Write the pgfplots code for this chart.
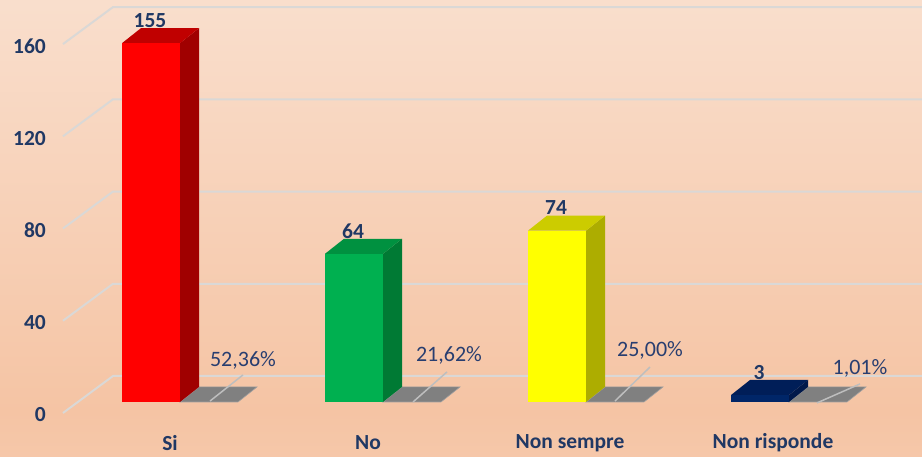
\documentclass[border=0pt]{standalone}
\usepackage{pgfplots}
\pgfplotsset{compat=1.18}
\usepackage{fontspec}
\setmainfont{Carlito}
\definecolor{navy}{RGB}{32,56,100}
\definecolor{pctc}{RGB}{40,62,112}
\definecolor{gridc}{RGB}{218,216,214}
\definecolor{bgtop}{RGB}{252,237,227}
\definecolor{bgmid}{RGB}{245,196,164}
\definecolor{bgbot}{RGB}{249,216,195}
\definecolor{redF}{RGB}{255,0,0}
\definecolor{redT}{RGB}{192,0,0}
\definecolor{redS}{RGB}{160,0,0}
\definecolor{grnF}{RGB}{0,176,80}
\definecolor{grnT}{RGB}{0,145,64}
\definecolor{grnS}{RGB}{0,122,52}
\definecolor{yelF}{RGB}{255,255,0}
\definecolor{yelT}{RGB}{204,204,0}
\definecolor{yelS}{RGB}{173,173,0}
\definecolor{navF}{RGB}{0,38,104}
\definecolor{navT}{RGB}{0,30,88}
\definecolor{navS}{RGB}{0,24,74}
\definecolor{grayF}{RGB}{128,128,128}
\definecolor{grayE}{RGB}{160,160,160}
\definecolor{leadc}{RGB}{190,190,190}
\pgfdeclareverticalshading{bgshade}{100bp}{color(0bp)=(bgbot); color(30bp)=(bgmid); color(100bp)=(bgtop)}
\newcommand{\bigf}{\fontsize{21.5}{25}\selectfont}
\newcommand{\pctf}{\fontsize{22}{25}\selectfont}
\begin{document}
\begin{tikzpicture}
\begin{axis}[
  width=922pt, height=457pt, scale only axis,
  xmin=0, xmax=922, ymin=-23.76, ymax=173.65,
  axis line style={draw=none},
  axis background/.style={shading=bgshade},
  major tick length=0pt,
  /pgf/number format/assume math mode=true,
  xtick={170,368,570,773},
  xticklabels={\textbf{Si},\textbf{No},\textbf{Non sempre},\textbf{Non risponde}},
  xticklabel style={anchor=center, inner sep=0pt, yshift=14pt, font=\bigf\bfseries, text=navy},
  ytick={-4.75,35.09,74.93,114.77,154.61},
  yticklabels={\textbf{0},\textbf{40},\textbf{80},\textbf{120},\textbf{160}},
  yticklabel style={anchor=east, inner sep=0pt, xshift=46pt, yshift=-2pt, font=\bigf\bfseries, text=navy},
  clip=false,
]
% gridlines (front-left diagonal, then back wall)
\addplot[gridc, line width=2pt] coordinates {(63,-4.75) (113,11.23) (922,11.23)};
\addplot[gridc, line width=2pt] coordinates {(63,35.09) (113,51.07) (922,51.07)};
\addplot[gridc, line width=2pt] coordinates {(63,74.93) (113,90.91) (922,90.91)};
\addplot[gridc, line width=2pt] coordinates {(63,114.77) (113,130.75) (922,130.75)};
\addplot[gridc, line width=2pt] coordinates {(63,154.61) (113,170.59) (922,170.59)};

% grey percentage bars (flat)
\addplot[fill=grayF, draw=grayE, line width=0.6pt] coordinates {(180,0) (238,0) (257,6.5) (199,6.5)} --cycle;
\addplot[fill=grayF, draw=grayE, line width=0.6pt] coordinates {(383,0) (441,0) (460,6.5) (402,6.5)} --cycle;
\addplot[fill=grayF, draw=grayE, line width=0.6pt] coordinates {(586,0) (644,0) (663,6.5) (605,6.5)} --cycle;
\addplot[fill=grayF, draw=grayE, line width=0.6pt] coordinates {(789,0) (847,0) (866,6.5) (808,6.5)} --cycle;

% leader lines
\addplot[leadc, line width=1.5pt] coordinates {(210,0.4) (243,11.7)};
\addplot[leadc, line width=1.5pt] coordinates {(413,0) (447,13.0)};
\addplot[leadc, line width=1.5pt] coordinates {(615,0.4) (650,15.1)};
\addplot[leadc, line width=1.5pt] coordinates {(817,-0.4) (860,7.8)};

% percentage labels
\node[font=\pctf, text=pctc] at (axis cs:243,18.1) {52,36\%};
\node[font=\pctf, text=pctc] at (axis cs:449,20.3) {21,62\%};
\node[font=\pctf, text=pctc] at (axis cs:650,22.5) {25,00\%};
\node[font=\pctf, text=pctc] at (axis cs:860,14.7) {1,01\%};

% main bars: side and top faces
\addplot[fill=redS, draw=none] coordinates {(180,0) (199,6.5) (199,161.5) (180,155)} --cycle;
\addplot[fill=redT, draw=none] coordinates {(122,155) (180,155) (199,161.5) (141,161.5)} --cycle;
\addplot[fill=grnS, draw=none] coordinates {(383,0) (402,6.5) (402,70.5) (383,64)} --cycle;
\addplot[fill=grnT, draw=none] coordinates {(325,64) (383,64) (402,70.5) (344,70.5)} --cycle;
\addplot[fill=yelS, draw=none] coordinates {(586,0) (605,6.5) (605,80.5) (586,74)} --cycle;
\addplot[fill=yelT, draw=none] coordinates {(528,74) (586,74) (605,80.5) (547,80.5)} --cycle;
\addplot[fill=navS, draw=none] coordinates {(789,0) (808,6.5) (808,9.5) (789,3)} --cycle;
\addplot[fill=navT, draw=none] coordinates {(731,3) (789,3) (808,9.5) (750,9.5)} --cycle;

% main bars: front faces with value labels
\pgfplotsset{vlab/.style={nodes near coords={\textbf{\pgfmathprintnumber{\pgfplotspointmeta}}},
  every node near coord/.append style={anchor=center, yshift=23pt, xshift=-1pt, font=\bigf\bfseries, text=navy}}}
\addplot[ybar, bar width=58, bar shift=0pt, fill=redF, draw=none, vlab] coordinates {(151,155)};
\addplot[ybar, bar width=58, bar shift=0pt, fill=grnF, draw=none, vlab] coordinates {(354,64)};
\addplot[ybar, bar width=58, bar shift=0pt, fill=yelF, draw=none, vlab] coordinates {(557,74)};
\addplot[ybar, bar width=58, bar shift=0pt, fill=navF, draw=none, vlab] coordinates {(760,3)};

\coordinate (sw) at (rel axis cs:0,0);
\coordinate (ne) at (rel axis cs:1,1);
\end{axis}
\pgfresetboundingbox
\path[use as bounding box] (sw) rectangle (ne);
\end{tikzpicture}
\end{document}
